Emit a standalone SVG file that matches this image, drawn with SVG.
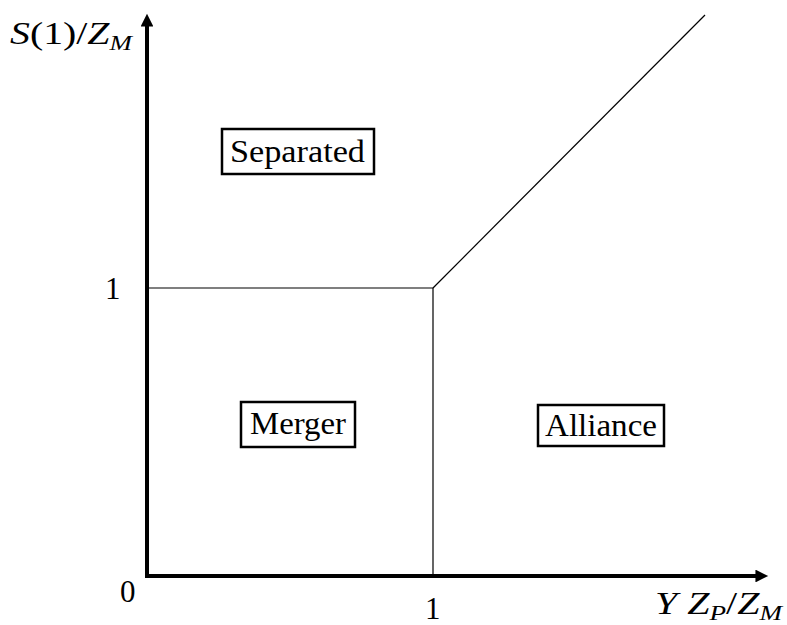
<svg xmlns="http://www.w3.org/2000/svg" width="787" height="625" viewBox="0 0 787 625">
<style>
text{font-family:"Liberation Serif","DejaVu Serif",serif;font-size:31px;fill:#000}
.it{font-style:italic}
.sub{font-size:21px;font-style:italic}
.box{fill:#fff;stroke:#000;stroke-width:2.5}
.thin{stroke:#000;stroke-width:1.2;fill:none}
.axis{stroke:#000;stroke-width:4;fill:none}
</style>
<defs>
<marker id="ah" viewBox="0 0 10 10" refX="2" refY="5" markerWidth="4" markerHeight="3.2" orient="auto" markerUnits="strokeWidth">
<path d="M0,0 L10,5 L0,10 z" fill="#000"/>
</marker>
</defs>
<rect width="787" height="625" fill="#fff"/>
<g id="connectors">
<line class="axis" x1="147" y1="578" x2="147" y2="24" marker-end="url(#ah)"/>
<line class="axis" x1="145" y1="576" x2="758" y2="576" marker-end="url(#ah)"/>
<polyline class="thin" points="147,288 433,288 433,576"/>
<line class="thin" x1="433" y1="288" x2="705" y2="15"/>
</g>
<g id="labels">
<text x="10" y="44" textLength="122" lengthAdjust="spacingAndGlyphs"><tspan class="it">S</tspan>(1)/<tspan class="it">Z</tspan><tspan class="sub" dy="6">M</tspan></text>
<text x="105" y="299">1</text>
<text x="120" y="602">0</text>
<text x="425" y="619">1</text>
<text x="655" y="614" textLength="127" lengthAdjust="spacingAndGlyphs"><tspan class="it">Y Z</tspan><tspan class="sub" dy="6">P</tspan><tspan dy="-6">/</tspan><tspan class="it">Z</tspan><tspan class="sub" dy="6">M</tspan></text>
</g>
<g id="separated">
<rect class="box" x="222" y="129" width="152" height="45"/>
<text x="230" y="162" textLength="135" lengthAdjust="spacingAndGlyphs">Separated</text>
</g>
<g id="merger">
<rect class="box" x="241" y="402" width="114" height="45"/>
<text x="250" y="434" textLength="96" lengthAdjust="spacingAndGlyphs">Merger</text>
</g>
<g id="alliance">
<rect class="box" x="538" y="405" width="126" height="41"/>
<text x="545" y="436" textLength="112" lengthAdjust="spacingAndGlyphs">Alliance</text>
</g>
</svg>
